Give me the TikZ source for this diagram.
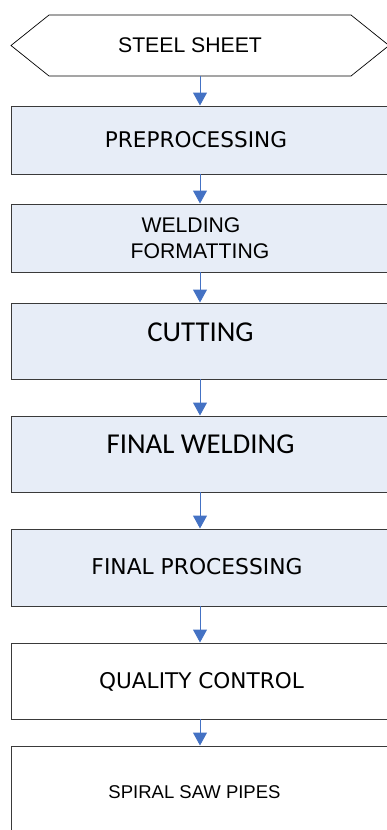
\documentclass[tikz,border=0pt]{standalone}
\usepackage{fontspec}
\usetikzlibrary{arrows.meta}
\newfontfamily\arialf{Liberation Sans}
\newfontfamily\verdf{DejaVu Sans}
\newfontfamily\calibf{Carlito}
\definecolor{boxfill}{HTML}{E7EDF7}
\definecolor{arrowblue}{HTML}{4472C4}
\definecolor{edgegray}{HTML}{3A3A3A}
\tikzset{
  stepbox/.style={draw=edgegray, line width=0.9pt, minimum width=378pt, inner sep=0pt, outer sep=0pt},
  filledbox/.style={stepbox, fill=boxfill},
  plainbox/.style={stepbox, fill=white},
  lbl/.style={anchor=base, inner sep=0pt, text=black},
  flow/.style={draw=arrowblue, line width=1pt, -{Triangle[width=14pt,length=13pt]}, shorten >=0.5pt}
}
\begin{document}
\begin{tikzpicture}[x=1pt,y=-1pt]
\clip (0,0) rectangle (387,830);
\fill[white] (0,0) rectangle (387,830);
% hexagon
\coordinate (h1) at (11,45.5);
\coordinate (h2) at (49,15);
\coordinate (h3) at (351,15);
\coordinate (h4) at (389,45.5);
\coordinate (h5) at (351,76);
\coordinate (h6) at (49,76);
\draw[black, line width=0.7pt, fill=white] (h1) -- (h2) -- (h3) -- (h4) -- (h5) -- (h6) -- cycle;
\node[minimum width=378pt, minimum height=61pt, inner sep=0pt, outer sep=0pt] (hex) at (200,45.5) {};
\node[lbl] (t0) at (190,52) {\arialf\fontsize{21.2}{24}\selectfont STEEL SHEET};
% boxes
\node[filledbox, minimum height=68pt] (b1) at (200,140) {};
\node[filledbox, minimum height=68pt] (b2) at (200,238) {};
\node[filledbox, minimum height=76pt] (b3) at (200,341) {};
\node[filledbox, minimum height=76pt] (b4) at (200,454) {};
\node[filledbox, minimum height=77pt] (b5) at (200,567.5) {};
\node[plainbox, minimum height=76pt] (b6) at (200,681) {};
\node[plainbox, minimum height=90pt] (b7) at (200,791) {};
% labels
\node[lbl] (t1) at (196,147) {\verdf\fontsize{21.6}{24}\selectfont PREPROCESSING};
\node[lbl] (t2a) at (191,232) {\arialf\fontsize{21.2}{24}\selectfont WELDING};
\node[lbl] (t2b) at (200,258) {\arialf\fontsize{21.2}{24}\selectfont FORMATTING};
\node[lbl] (t3) at (200.5,341) {\calibf\fontsize{28.8}{32}\selectfont CUTTING};
\node[lbl] (t4) at (200.5,453) {\calibf\fontsize{28.8}{32}\selectfont FINAL WELDING};
\node[lbl] (t5) at (197,574) {\verdf\fontsize{21.8}{24}\selectfont FINAL PROCESSING};
\node[lbl] (t6) at (201.5,688) {\verdf\fontsize{21.6}{24}\selectfont QUALITY CONTROL};
\node[lbl] (t7) at (194.5,798) {\arialf\fontsize{18.5}{22}\selectfont SPIRAL SAW PIPES};
% arrows
\draw[flow] (hex.south) -- (b1.north);
\draw[flow] (b1.south) -- (b2.north);
\draw[flow] (b2.south) -- (b3.north);
\draw[flow] (b3.south) -- (b4.north);
\draw[flow] (b4.south) -- (b5.north);
\draw[flow] (b5.south) -- (b6.north);
\draw[flow] (b6.south) -- (b7.north);
\end{tikzpicture}
\end{document}
